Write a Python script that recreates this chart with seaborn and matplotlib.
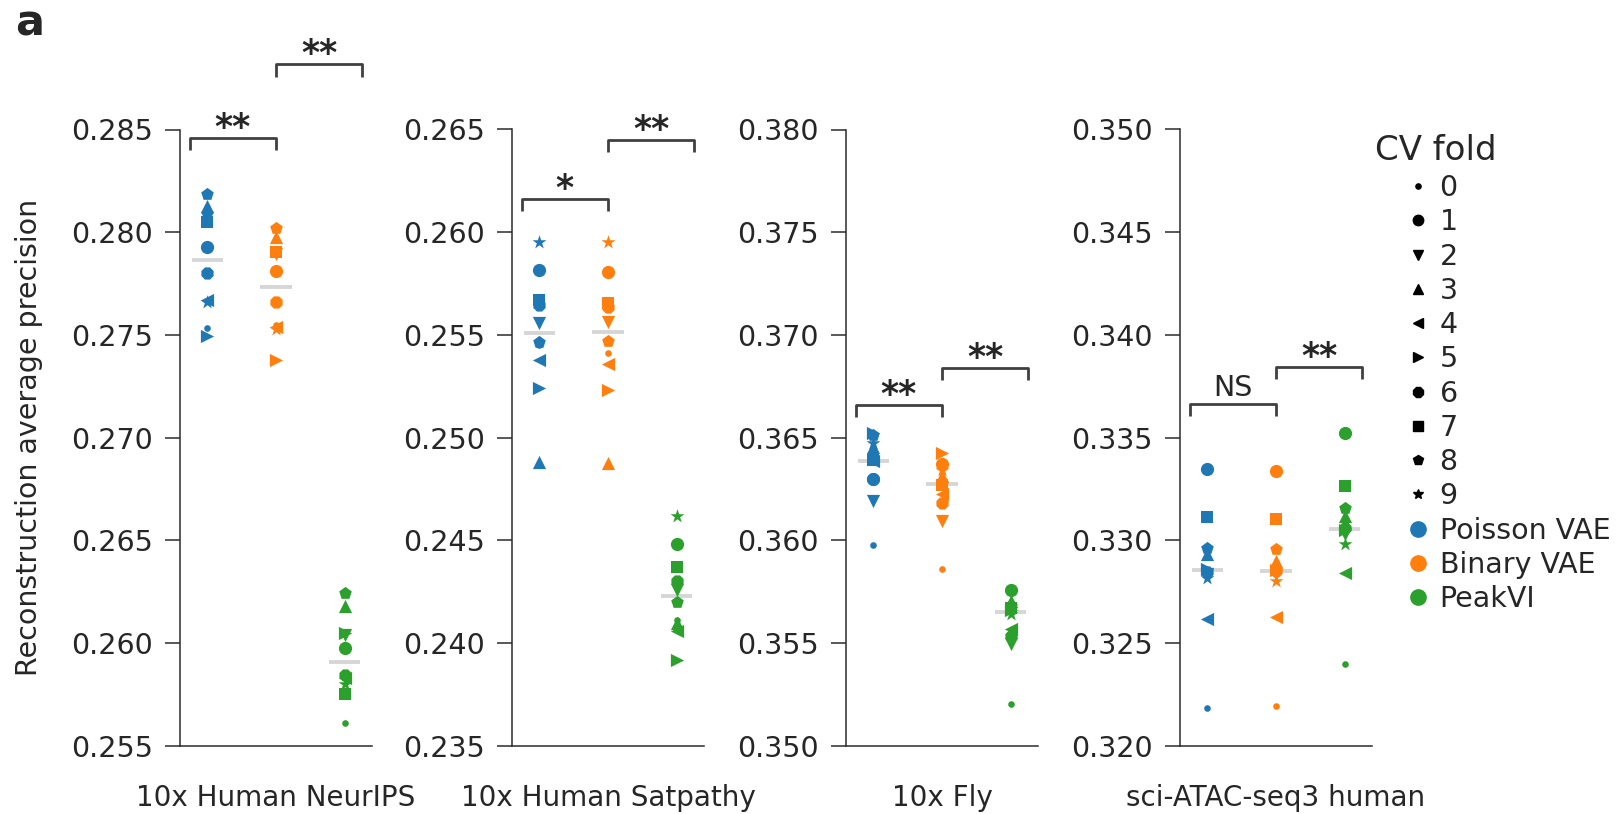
import numpy as np
import pandas as pd
import matplotlib
matplotlib.use("Agg")
import matplotlib.pyplot as plt
from matplotlib.lines import Line2D
from matplotlib.ticker import FormatStrFormatter
import seaborn as sns

# ---------------- data ----------------
datasets = ["10x Human NeurIPS", "10x Human Satpathy", "10x Fly", "sci-ATAC-seq3 human"]
methods = ["Poisson VAE", "Binary VAE", "PeakVI"]
folds = list(range(10))

# values for CV folds 0..9
neurips_poisson = [0.27534, 0.27930, 0.28070, 0.28128, 0.27670, 0.27494, 0.27800, 0.28050, 0.28184, 0.27660]
neurips_binary = [0.27550, 0.27809, 0.27892, 0.27976, 0.27540, 0.27376, 0.27660, 0.27902, 0.28022, 0.27530]
neurips_peakvi = [0.25610, 0.25976, 0.26040, 0.26180, 0.25830, 0.26050, 0.25842, 0.25753, 0.26241, 0.25802]

satpathy_poisson = [0.25450, 0.25814, 0.25556, 0.24882, 0.25380, 0.25240, 0.25647, 0.25668, 0.25466, 0.25951]
satpathy_binary = [0.25413, 0.25806, 0.25561, 0.24874, 0.25356, 0.25231, 0.25634, 0.25655, 0.25469, 0.25951]
satpathy_peakvi = [0.24113, 0.24480, 0.24258, 0.24099, 0.24056, 0.23918, 0.24304, 0.24370, 0.24201, 0.24620]

fly_poisson = [0.35976, 0.36299, 0.36189, 0.36456, 0.36384, 0.36521, 0.36300, 0.36390, 0.36513, 0.36472]
fly_binary = [0.35858, 0.36372, 0.36092, 0.36311, 0.36225, 0.36424, 0.36181, 0.36270, 0.36280, 0.36343]
fly_peakvi = [0.35202, 0.35760, 0.35494, 0.35704, 0.35566, 0.35660, 0.35534, 0.35670, 0.35680, 0.35639]

sci_poisson = [0.32185, 0.33349, 0.32835, 0.32932, 0.32618, 0.32862, 0.32845, 0.33114, 0.32964, 0.32815]
sci_binary = [0.32193, 0.33338, 0.32834, 0.32899, 0.32628, 0.32855, 0.32850, 0.33102, 0.32956, 0.32802]
sci_peakvi = [0.32400, 0.33524, 0.33030, 0.33118, 0.32839, 0.33050, 0.33060, 0.33265, 0.33159, 0.32980]

values = {
    "10x Human NeurIPS": [neurips_poisson, neurips_binary, neurips_peakvi],
    "10x Human Satpathy": [satpathy_poisson, satpathy_binary, satpathy_peakvi],
    "10x Fly": [fly_poisson, fly_binary, fly_peakvi],
    "sci-ATAC-seq3 human": [sci_poisson, sci_binary, sci_peakvi],
}

y_limits = [(0.255, 0.285), (0.235, 0.265), (0.350, 0.380), (0.320, 0.350)]

# significance brackets: (group a, group b, height, label)
brackets = [
    [(0, 1, 0.28460, "**"), (1, 2, 0.28818, "**")],
    [(0, 1, 0.26162, "*"), (1, 2, 0.26450, "**")],
    [(0, 1, 0.36659, "**"), (1, 2, 0.36840, "**")],
    [(0, 1, 0.33664, "NS"), (1, 2, 0.33846, "**")],
]

# ---------------- styles ----------------
palette = {"Poisson VAE": "#1f77b4", "Binary VAE": "#ff7f0e", "PeakVI": "#2ca02c"}
fold_markers = [".", "o", "v", "^", "<", ">", "8", "s", "p", "*"]
fold_sizes = [9.5, 9.5, 9.5, 9.5, 9.5, 9.5, 9.5, 8.5, 9.5, 10.5]

rows = []
for ds in datasets:
    for mi, meth in enumerate(methods):
        for f, v in zip(folds, values[ds][mi]):
            rows.append({"dataset": ds, "method": meth, "fold": f, "value": v})
long = pd.DataFrame(rows)

sns.set_theme(style="ticks")
plt.rcParams["font.family"] = ["DejaVu Sans"]
plt.rcParams["axes.edgecolor"] = "#2b2b2b"

W, H = 1624, 814
fig = plt.figure(figsize=(W / 100, H / 100), dpi=100)
lefts = [180, 512, 846, 1180]
ax_w = 192
top_px, bot_px = 129.5, 745.7

np.random.seed(7)
for k, ds in enumerate(datasets):
    ax = fig.add_axes([lefts[k] / W, (H - bot_px) / H, ax_w / W, (bot_px - top_px) / H])
    df = long[long.dataset == ds]

    # medians
    med = df.groupby("method")["value"].median().reindex(methods)
    ax.hlines(med.values, np.arange(3) - 0.23, np.arange(3) + 0.23,
              color="#d6d6d6", linewidth=2.8, zorder=1)

    for f, m, s in zip(folds, fold_markers, fold_sizes):
        sub = df[df.fold == f]
        sns.stripplot(data=sub, x="method", y="value", order=methods,
                      hue="method", hue_order=methods, palette=palette,
                      marker=m, size=s, jitter=0.07, linewidth=0,
                      legend=False, ax=ax, zorder=3)

    lo, hi = y_limits[k]
    ax.set_xlim(-0.4, 2.4)
    ax.set_ylim(lo, hi)
    ax.set_yticks(np.linspace(lo, hi, 7))
    ax.yaxis.set_major_formatter(FormatStrFormatter("%.3f"))
    ax.tick_params(axis="y", labelsize=20.5, length=10.5, width=1.1, pad=9, color="#2b2b2b")
    ax.set_xticks([])
    ax.set_xlabel(ds, fontsize=20, labelpad=27.5)
    ax.set_ylabel("")
    for sp in ["top", "right"]:
        ax.spines[sp].set_visible(False)
    for sp in ["left", "bottom"]:
        ax.spines[sp].set_linewidth(1.1)

    d = 0.02 * (hi - lo)
    for a, b, y, lab in brackets[k]:
        x0 = a - 0.26 if a == 0 else a
        x1 = b + 0.26 if b == 2 else b
        ax.plot([x0, x0, x1, x1], [y - d, y, y, y - d], color="#404040",
                linewidth=2.0, clip_on=False, solid_capstyle="butt", zorder=4)
        if lab == "NS":
            ax.annotate(lab, ((x0 + x1) / 2, y), xytext=(0, 5.5), textcoords="offset points",
                        ha="center", va="baseline", fontsize=20.5, annotation_clip=False)
        else:
            ax.annotate(lab, ((x0 + x1) / 2, y), xytext=(0, 0.0), textcoords="offset points",
                        ha="center", va="baseline", fontsize=25, fontweight="bold",
                        annotation_clip=False)

    if k == 0:
        ax.set_ylabel("Reconstruction average precision", fontsize=20.5)
        ax.yaxis.set_label_coords(-0.715, 0.5)

# legend
handles = [Line2D([], [], marker=m, color="black", linestyle="", markersize=7.5)
           for m in fold_markers]
labels = [str(f) for f in folds]
handles += [Line2D([], [], marker="o", color=palette[m], linestyle="", markersize=11)
            for m in methods]
labels += methods
fig.legend(handles, labels, loc="upper left", bbox_to_anchor=(1404 / W, 1 - 174 / H),
           frameon=False, borderpad=0, borderaxespad=0, handlelength=1.0,
           handletextpad=0.25, labelspacing=0.22, fontsize=20.5)
fig.text(1375 / W, 1 - 150 / H, "CV fold", fontsize=24.5, va="center", ha="left")

fig.text(15 / W, 1 - 36 / H, "a", fontsize=31, fontweight="heavy", va="baseline", ha="left")

fig.savefig("out.png", dpi=100)
